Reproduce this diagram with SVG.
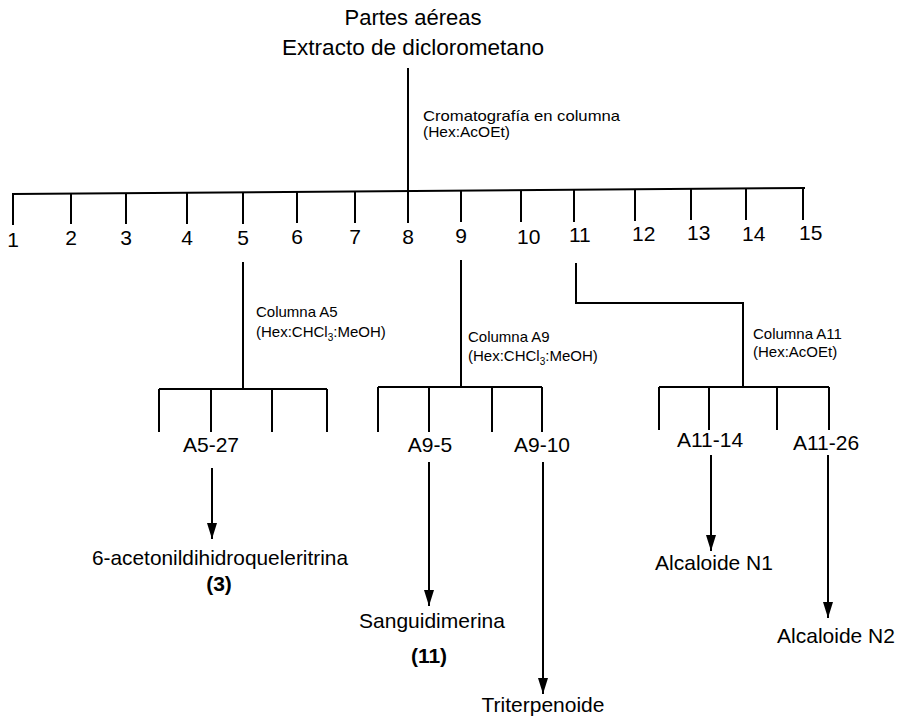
<svg xmlns="http://www.w3.org/2000/svg" width="897" height="717" viewBox="0 0 897 717">
<style>
text{font-family:"Liberation Sans",Arial,sans-serif;fill:#000}
.big{font-size:21px}
.title{font-size:22px}
.num{font-size:21px}
.sm{font-size:15px}
.bold{font-weight:bold}
.mid{text-anchor:middle}
.ln{stroke:#000;stroke-width:2;fill:none}
.arr{stroke:#000;stroke-width:2;fill:none;marker-end:url(#ah)}
</style>
<defs>
<marker id="ah" viewBox="0 0 16 10" refX="16" refY="5" markerUnits="userSpaceOnUse" markerWidth="16" markerHeight="10" orient="auto">
<path d="M0,0 L16,5 L0,10 z" fill="#000"/>
</marker>
</defs>
<rect width="897" height="717" fill="#fff"/>
<g id="connectors">
<line class="ln" x1="408" y1="68" x2="408" y2="192"/>
<line class="ln" x1="12" y1="194" x2="805" y2="188"/>
<line class="ln" x1="13" y1="194" x2="13" y2="225"/>
<line class="ln" x1="71" y1="193.6" x2="71" y2="224"/>
<line class="ln" x1="126" y1="193.1" x2="126" y2="224"/>
<line class="ln" x1="187" y1="192.7" x2="187" y2="224"/>
<line class="ln" x1="243" y1="192.3" x2="243" y2="224"/>
<line class="ln" x1="297" y1="191.8" x2="297" y2="223"/>
<line class="ln" x1="355" y1="191.4" x2="355" y2="223"/>
<line class="ln" x1="408" y1="191" x2="408" y2="223"/>
<line class="ln" x1="461" y1="190.6" x2="461" y2="222"/>
<line class="ln" x1="521" y1="190.1" x2="521" y2="222"/>
<line class="ln" x1="574" y1="189.7" x2="574" y2="222"/>
<line class="ln" x1="635" y1="189.3" x2="635" y2="221"/>
<line class="ln" x1="691" y1="188.9" x2="691" y2="220"/>
<line class="ln" x1="746" y1="188.4" x2="746" y2="220"/>
<line class="ln" x1="803" y1="188" x2="803" y2="220"/>
<!-- A5 -->
<line class="ln" x1="243" y1="262" x2="243" y2="389"/>
<line class="ln" x1="159" y1="389" x2="327" y2="389"/>
<line class="ln" x1="159" y1="389" x2="159" y2="432"/>
<line class="ln" x1="211" y1="389" x2="211" y2="432"/>
<line class="ln" x1="272" y1="389" x2="272" y2="432"/>
<line class="ln" x1="327" y1="389" x2="327" y2="432"/>
<!-- A9 -->
<line class="ln" x1="461" y1="260" x2="461" y2="387"/>
<line class="ln" x1="378" y1="387" x2="542" y2="387"/>
<line class="ln" x1="378" y1="387" x2="378" y2="432"/>
<line class="ln" x1="429" y1="387" x2="429" y2="432"/>
<line class="ln" x1="492" y1="387" x2="492" y2="432"/>
<line class="ln" x1="542" y1="387" x2="542" y2="432"/>
<!-- A11 -->
<polyline class="ln" points="576,263 576,303 743,303 743,387"/>
<line class="ln" x1="659" y1="387" x2="829" y2="387"/>
<line class="ln" x1="659" y1="387" x2="659" y2="430"/>
<line class="ln" x1="709" y1="387" x2="709" y2="430"/>
<line class="ln" x1="777" y1="387" x2="777" y2="430"/>
<line class="ln" x1="829" y1="387" x2="829" y2="430"/>
<!-- arrows -->
<line class="arr" x1="212" y1="468" x2="212" y2="539"/>
<line class="arr" x1="429" y1="462" x2="429" y2="606"/>
<line class="arr" x1="543" y1="462" x2="543" y2="694"/>
<line class="arr" x1="711" y1="455" x2="711" y2="551"/>
<line class="arr" x1="828" y1="455" x2="828" y2="618"/>
</g>
<g id="title">
<text class="title mid" x="413" y="25" textLength="137" lengthAdjust="spacingAndGlyphs">Partes aéreas</text>
<text class="title mid" x="413" y="55" textLength="262" lengthAdjust="spacingAndGlyphs">Extracto de diclorometano</text>
</g>
<g id="label-cc">
<text class="sm" x="423" y="121" textLength="197" lengthAdjust="spacingAndGlyphs">Cromatografía en columna</text>
<text class="sm" x="423" y="137" textLength="87" lengthAdjust="spacingAndGlyphs">(Hex:AcOEt)</text>
</g>
<g id="fractions">
<text class="num mid" x="13" y="247">1</text>
<text class="num mid" x="71" y="245">2</text>
<text class="num mid" x="126" y="245">3</text>
<text class="num mid" x="187" y="245">4</text>
<text class="num mid" x="243" y="245">5</text>
<text class="num mid" x="297" y="244">6</text>
<text class="num mid" x="355" y="244">7</text>
<text class="num mid" x="408" y="244">8</text>
<text class="num mid" x="461" y="243">9</text>
<text class="num" x="517" y="244">10</text>
<text class="num" x="569" y="242">11</text>
<text class="num" x="632" y="241">12</text>
<text class="num" x="687" y="240">13</text>
<text class="num" x="742" y="241">14</text>
<text class="num" x="799" y="240">15</text>
</g>
<g id="label-a5">
<text class="sm" x="256" y="317">Columna A5</text>
<text class="sm" x="256" y="337">(Hex:CHCl<tspan font-size="10" dy="4">3</tspan><tspan dy="-4">:MeOH)</tspan></text>
</g>
<g id="label-a9">
<text class="sm" x="468" y="342">Columna A9</text>
<text class="sm" x="468" y="361">(Hex:CHCl<tspan font-size="10" dy="4">3</tspan><tspan dy="-4">:MeOH)</tspan></text>
</g>
<g id="label-a11">
<text class="sm" x="753" y="339">Columna A11</text>
<text class="sm" x="753" y="357">(Hex:AcOEt)</text>
</g>
<g id="node-a5-27"><text class="big mid" x="211" y="452">A5-27</text></g>
<g id="node-a9-5"><text class="big mid" x="430" y="452">A9-5</text></g>
<g id="node-a9-10"><text class="big mid" x="542" y="452">A9-10</text></g>
<g id="node-a11-14"><text class="big mid" x="710" y="447">A11-14</text></g>
<g id="node-a11-26"><text class="big mid" x="826" y="450">A11-26</text></g>
<g id="node-3">
<text class="big mid" x="220" y="565" textLength="256" lengthAdjust="spacingAndGlyphs">6-acetonildihidroqueleritrina</text>
<text class="big mid bold" x="219" y="591">(3)</text>
</g>
<g id="node-11">
<text class="big mid" x="432" y="628">Sanguidimerina</text>
<text class="big mid bold" x="429" y="663">(11)</text>
</g>
<g id="node-triterpenoide"><text class="big mid" x="543" y="712">Triterpenoide</text></g>
<g id="node-n1"><text class="big mid" x="714" y="570">Alcaloide N1</text></g>
<g id="node-n2"><text class="big mid" x="836" y="643">Alcaloide N2</text></g>
</svg>
